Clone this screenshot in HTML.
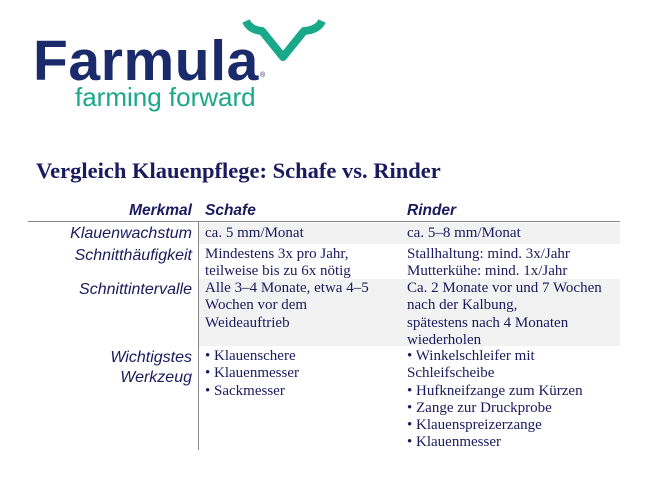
<!DOCTYPE html>
<html><head><meta charset="utf-8"><style>
body{margin:0;width:655px;height:497px;background:#fff;position:relative;overflow:hidden}
.a{position:absolute;white-space:nowrap}
.s{font-family:"Liberation Serif",serif;font-size:15px;color:#1a1a5e;line-height:17.3px}
.l{font-family:"Liberation Sans",sans-serif;font-style:italic;font-size:16px;color:#1a1a5e;line-height:20px;text-align:right;right:463px}
.h{font-family:"Liberation Sans",sans-serif;font-style:italic;font-weight:bold;font-size:15.5px;color:#1a1a5e}
</style></head><body>
<div class="a" style="left:33px;top:26px;font-family:'Liberation Sans',sans-serif;font-weight:bold;font-size:57px;color:#1b2a6b;letter-spacing:0.6px;line-height:70px">Farmula</div>
<div class="a" style="left:260px;top:72px;font-family:'Liberation Sans',sans-serif;font-size:7px;color:#1b2a6b">®</div>
<div class="a" style="left:75px;top:82px;font-family:'Liberation Sans',sans-serif;font-size:26px;color:#1aa88a;line-height:30px">farming forward</div>
<svg class="a" style="left:0;top:0" width="655" height="120"><path d="M246 21 Q250 30 262 31 L283 57 L304 31 Q318 30 322 21" fill="none" stroke="#1aa88a" stroke-width="8" stroke-linejoin="round"/></svg>
<div class="a" style="left:36px;top:158px;font-family:'Liberation Serif',serif;font-weight:bold;font-size:22.5px;color:#1a1a5e">Vergleich Klauenpflege: Schafe vs. Rinder</div>
<div class="a" style="left:199px;top:223px;width:421px;height:21px;background:#f2f2f2"></div>
<div class="a" style="left:199px;top:279px;width:421px;height:67px;background:#f2f2f2"></div>
<div class="a" style="left:28px;top:221px;width:592px;height:1px;background:#888"></div>
<div class="a" style="left:198px;top:222px;width:1px;height:228px;background:#888"></div>
<div class="a h" style="right:463px;top:202px">Merkmal</div>
<div class="a h" style="left:205px;top:202px">Schafe</div>
<div class="a h" style="left:407px;top:202px">Rinder</div>
<div class="a l" style="top:224px">Klauenwachstum</div>
<div class="a l" style="top:246px">Schnitthäufigkeit</div>
<div class="a l" style="top:280px">Schnittintervalle</div>
<div class="a l" style="top:348px">Wichtigstes<br>Werkzeug</div>
<div class="a s" style="left:205px;top:225px">ca. 5 mm/Monat</div>
<div class="a s" style="left:407px;top:225px">ca. 5–8 mm/Monat</div>
<div class="a s" style="left:205px;top:246px">Mindestens 3x pro Jahr,<br>teilweise bis zu 6x nötig</div>
<div class="a s" style="left:407px;top:246px">Stallhaltung: mind. 3x/Jahr<br>Mutterkühe: mind. 1x/Jahr</div>
<div class="a s" style="left:205px;top:280px">Alle 3–4 Monate, etwa 4–5<br>Wochen vor dem<br>Weideauftrieb</div>
<div class="a s" style="left:407px;top:280px">Ca. 2 Monate vor und 7 Wochen<br>nach der Kalbung,<br>spätestens nach 4 Monaten<br>wiederholen</div>
<div class="a s" style="left:205px;top:348px">• Klauenschere<br>• Klauenmesser<br>• Sackmesser</div>
<div class="a s" style="left:407px;top:348px">• Winkelschleifer mit<br>Schleifscheibe<br>• Hufkneifzange zum Kürzen<br>• Zange zur Druckprobe<br>• Klauenspreizerzange<br>• Klauenmesser</div>
</body></html>
